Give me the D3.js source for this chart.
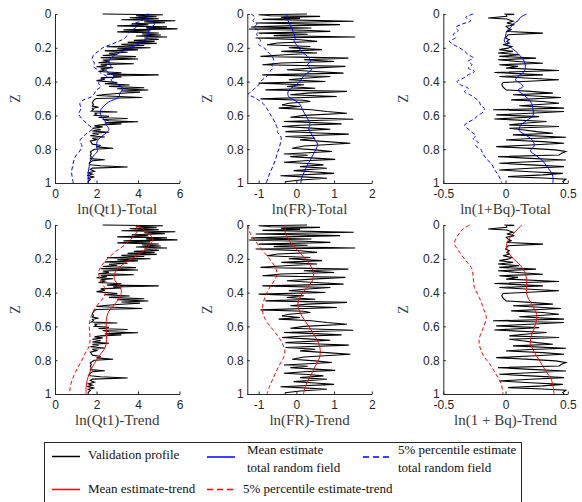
<!DOCTYPE html>
<html>
<head>
<meta charset="utf-8">
<script src="https://cdn.jsdelivr.net/npm/d3@7"></script>
<style>
  body { margin: 0; background: #fff; }
  svg { display: block; }
</style>
</head>
<body>
<div id="chart"></div>
<script>
// ---- data: each point is [Z, value] ----

var zTicks = [0, 0.2, 0.4, 0.6, 0.8, 1];
var qtLim = [0, 6], qtTicks = [0, 2, 4, 6];
var frLim = [-1.3, 2], frTicks = [-1, 0, 1, 2];
var bqLim = [-0.5, 0.5], bqTicks = [-0.5, 0, 0.5];

var qtLabels = ["ln(Qt1)-Total", "ln(Qt1)-Trend"];
var frLabels = ["ln(FR)-Total", "ln(FR)-Trend"];
var bqLabels = ["ln(1+Bq)-Total", "ln(1 + Bq)-Trend"];

// validation profiles (black)
var qtValidation = [[0,2.3],[0.004,5.2],[0.01,3.9],[0.016,4.9],[0.022,3.6],[0.028,5.0],[0.034,3.2],[0.04,5.8],[0.046,4.3],[0.052,5.3],
  [0.058,3.7],[0.064,4.5],[0.07,3.0],[0.076,5.4],[0.082,4.4],[0.088,5.9],[0.094,3.3],[0.1,4.6],[0.106,3.0],[0.112,5.0],[0.118,4.2],
  [0.124,5.1],[0.13,3.9],[0.136,5.4],[0.142,4.3],[0.15,5.0],[0.156,3.8],[0.162,4.8],[0.168,3.5],[0.174,4.9],[0.18,3.2],[0.186,4.3],
  [0.194,2.5],[0.2,4.6],[0.206,3.0],[0.212,4.0],[0.218,2.4],[0.226,3.5],[0.232,2.6],[0.238,3.0],[0.246,2.3],[0.252,3.9],[0.258,2.2],
  [0.266,4.0],[0.272,2.3],[0.28,2.6],[0.288,2.1],[0.294,3.8],[0.3,2.2],[0.306,2.5],[0.312,2.0],[0.318,2.8],[0.324,2.2],[0.332,2.4],
  [0.34,2.1],[0.348,3.2],[0.356,2.5],[0.36,5.0],[0.366,2.8],[0.372,3.2],[0.378,2.2],[0.386,2.4],[0.394,2.0],[0.4,2.5],[0.406,3.0],
  [0.412,2.4],[0.42,3.6],[0.428,2.6],[0.436,4.3],[0.442,3.0],[0.45,4.5],[0.456,3.2],[0.462,4.1],[0.47,3.0],[0.476,2.4],[0.482,2.0],
  [0.488,3.1],[0.494,4.2],[0.5,2.0],[0.506,1.9],[0.515,1.85],[0.525,1.8],[0.535,1.85],[0.545,1.8],[0.552,2.1],[0.558,1.8],[0.566,1.85],
  [0.574,1.75],[0.58,3.0],[0.586,1.9],[0.592,2.0],[0.6,1.9],[0.606,2.6],[0.612,2.1],[0.618,3.5],[0.624,2.3],[0.632,2.6],[0.638,4.0],
  [0.644,2.4],[0.65,3.2],[0.656,2.2],[0.662,1.9],[0.668,2.3],[0.676,1.8],[0.684,2.2],[0.692,1.8],[0.7,2.6],[0.706,1.8],[0.712,2.1],
  [0.72,1.7],[0.728,2.4],[0.736,1.8],[0.744,2.0],[0.752,1.7],[0.76,1.75],[0.77,1.8],[0.778,2.2],[0.786,2.0],[0.794,2.8],[0.8,1.9],
  [0.808,1.8],[0.816,1.7],[0.826,1.75],[0.836,1.7],[0.846,1.75],[0.856,1.7],[0.862,2.4],[0.868,1.8],[0.876,1.7],[0.884,1.65],[0.892,1.7],
  [0.898,2.2],[0.905,3.5],[0.912,1.8],[0.92,1.7],[0.93,1.9],[0.94,1.6],[0.948,1.8],[0.956,1.55],[0.964,1.9],[0.972,1.6],[0.98,1.7],
  [0.99,1.6],[1,1.6]];

var frValidation = [[0,0.28],[0.004,-1.0],[0.01,-0.69],[0.014,0.63],[0.02,-0.4],[0.026,0.1],[0.032,-0.9],[0.043,1.52],[0.053,-1.08],
  [0.063,1.16],[0.07,-0.3],[0.077,-1.2],[0.083,0.4],[0.089,-1.26],[0.096,0.2],[0.103,0.9],[0.113,-1.0],[0.12,0.3],[0.128,-0.6],
  [0.136,1.56],[0.142,-1.08],[0.152,0.1],[0.162,0.55],[0.172,-0.5],[0.182,-0.78],[0.192,0.37],[0.2,-0.2],[0.211,0.68],[0.221,-0.4],
  [0.231,0.55],[0.241,-0.3],[0.251,-0.95],[0.261,1.38],[0.271,0.2],[0.281,1.0],[0.29,-0.4],[0.3,-0.9],[0.31,1.3],[0.32,0.4],
  [0.33,-0.25],[0.34,0.5],[0.35,1.25],[0.36,-0.9],[0.37,0.9],[0.38,0.2],[0.389,-0.2],[0.399,0.77],[0.409,-1.0],[0.419,0.2],
  [0.429,-0.25],[0.439,0.5],[0.449,-0.82],[0.458,1.34],[0.468,0.3],[0.478,-0.16],[0.488,1.07],[0.502,-0.95],[0.51,0.2],[0.518,0.37],
  [0.528,-0.2],[0.538,-0.38],[0.547,0.1],[0.557,-0.47],[0.567,0.4],[0.577,0.81],[0.587,1.34],[0.6,0.2],[0.611,-0.16],[0.623,1.51],
  [0.636,-0.33],[0.643,0.5],[0.65,1.2],[0.658,0.1],[0.666,-0.38],[0.674,0.3],[0.682,0.9],[0.696,-0.29],[0.704,0.6],[0.711,1.39],
  [0.725,-0.29],[0.735,0.5],[0.745,0.1],[0.755,0.8],[0.765,1.43],[0.781,0.2],[0.794,-0.11],[0.804,0.5],[0.814,0.94],[0.828,-0.33],
  [0.836,0.3],[0.844,-0.16],[0.86,1.03],[0.868,0.2],[0.877,-0.33],[0.885,0.3],[0.893,0.72],[0.903,0.1],[0.913,0.81],[0.927,-0.07],
  [0.935,0.5],[0.943,1.0],[0.957,-0.42],[0.965,0.3],[0.972,0.81],[0.982,0.1],[0.992,-0.29],[1,-0.3]];

var bqValidation = [[0,-0.01],[0.002,0.07],[0.004,0.005],[0.014,0.01],[0.024,-0.14],[0.03,0.01],[0.043,0.06],[0.053,0.01],[0.063,0.07],
  [0.073,0.005],[0.083,0.02],[0.093,0.045],[0.103,0.01],[0.113,0.3],[0.123,0.02],[0.132,0.01],[0.142,0.0],[0.152,0.03],[0.162,0.01],
  [0.172,0.03],[0.182,-0.02],[0.192,0.05],[0.202,0.02],[0.211,-0.05],[0.221,0.06],[0.231,-0.06],[0.241,0.11],[0.251,-0.05],
  [0.261,0.245],[0.271,-0.06],[0.281,0.1],[0.291,0.3],[0.3,-0.05],[0.31,0.1],[0.32,0.005],[0.334,0.43],[0.346,-0.09],[0.36,0.3],
  [0.37,-0.05],[0.38,0.2],[0.389,0.43],[0.405,-0.02],[0.419,-0.03],[0.433,-0.02],[0.449,0.005],[0.458,0.2],[0.468,0.38],[0.478,0.06],
  [0.494,0.445],[0.508,0.045],[0.518,0.3],[0.528,0.43],[0.543,0.11],[0.557,0.47],[0.567,-0.1],[0.577,0.47],[0.587,0.2],[0.597,-0.075],
  [0.607,0.27],[0.621,-0.09],[0.636,0.33],[0.646,0.15],[0.656,0.03],[0.666,0.43],[0.676,0.03],[0.686,0.15],[0.696,0.25],[0.706,0.38],
  [0.715,0.06],[0.729,0.485],[0.737,0.2],[0.745,0.005],[0.755,0.3],[0.765,0.47],[0.775,0.2],[0.785,-0.075],[0.795,0.2],[0.804,0.4],
  [0.814,0.485],[0.824,0.45],[0.834,0.43],[0.844,-0.06],[0.854,0.2],[0.864,0.485],[0.874,0.2],[0.883,-0.05],[0.893,0.2],[0.903,0.47],
  [0.913,0.2],[0.923,-0.05],[0.933,0.2],[0.943,0.46],[0.952,0.3],[0.962,0.02],[0.97,0.3],[0.978,0.485],[0.992,0.46],[1,0.47]];

// mean and 5% percentile estimates, total random field (blue)
var qtMeanTotal = [[0,4.6],[0.03,4.4],[0.06,4.8],[0.09,4.5],[0.12,4.5],[0.16,4.3],[0.2,3.6],[0.23,3.1],[0.26,2.7],[0.29,2.6],[0.31,2.7],
  [0.33,2.45],[0.35,2.6],[0.37,2.9],[0.39,2.7],[0.41,2.9],[0.43,3.2],[0.45,3.25],[0.47,3.1],[0.49,3.1],[0.52,2.6],[0.545,2.35],[0.57,2.2],
  [0.6,2.2],[0.63,2.4],[0.66,2.5],[0.68,2.6],[0.7,2.5],[0.72,2.3],[0.75,2.05],[0.78,2.0],[0.81,2.05],[0.84,1.85],[0.87,1.7],[0.9,1.65],
  [0.94,1.6],[0.97,1.6],[1,1.6]];
var qtP5Total = [[0,4.5],[0.02,4.0],[0.04,4.2],[0.06,3.7],[0.08,3.9],[0.1,3.6],[0.12,3.5],[0.14,3.4],[0.16,3.1],[0.18,2.7],[0.2,2.3],
  [0.22,2.1],[0.245,1.85],[0.27,1.8],[0.29,1.9],[0.31,1.85],[0.33,2.05],[0.35,2.2],[0.37,2.5],[0.39,2.2],[0.41,2.1],[0.43,2.2],[0.45,2.0],
  [0.47,1.9],[0.49,1.75],[0.51,1.35],[0.53,1.2],[0.56,1.25],[0.59,1.15],[0.62,1.3],[0.65,1.55],[0.68,1.8],[0.7,1.6],[0.72,1.4],[0.75,1.2],
  [0.78,1.3],[0.81,1.2],[0.84,1.0],[0.87,0.9],[0.9,0.85],[0.93,0.8],[0.96,0.82],[1,0.88]];

var frMeanTotal = [[0,-0.26],[0.04,-0.22],[0.08,-0.13],[0.12,-0.06],[0.14,-0.03],[0.16,-0.06],[0.19,0.03],[0.22,0.13],[0.26,0.34],
  [0.28,0.38],[0.3,0.3],[0.33,0.4],[0.36,0.22],[0.39,0.12],[0.41,0.05],[0.43,-0.08],[0.46,-0.22],[0.49,-0.2],[0.51,-0.05],[0.53,0.08],
  [0.56,0.15],[0.59,0.22],[0.62,0.3],[0.65,0.36],[0.68,0.33],[0.71,0.4],[0.74,0.48],[0.77,0.56],[0.8,0.52],[0.83,0.45],[0.86,0.38],
  [0.9,0.28],[0.94,0.2],[0.97,0.14],[1,0.12]];
var frP5Total = [[0,-1.2],[0.02,-1.1],[0.04,-1.15],[0.06,-1.05],[0.08,-1.12],[0.1,-1.0],[0.12,-1.05],[0.14,-1.0],[0.16,-0.95],
  [0.18,-1.0],[0.2,-0.85],[0.22,-0.78],[0.24,-0.68],[0.26,-0.62],[0.28,-0.6],[0.3,-0.65],[0.32,-0.62],[0.34,-0.7],[0.36,-0.75],
  [0.38,-0.85],[0.4,-0.95],[0.42,-1.0],[0.44,-1.1],[0.46,-1.2],[0.475,-1.28],[0.49,-1.15],[0.51,-1.0],[0.53,-0.88],[0.56,-0.78],
  [0.59,-0.7],[0.62,-0.62],[0.65,-0.55],[0.68,-0.5],[0.7,-0.5],[0.72,-0.42],[0.74,-0.4],[0.76,-0.42],[0.79,-0.45],[0.82,-0.5],
  [0.86,-0.55],[0.9,-0.62],[0.94,-0.7],[0.97,-0.75],[1,-0.8]];

var bqMeanTotal = [[0,0.17],[0.02,0.12],[0.04,0.1],[0.06,0.06],[0.08,0.04],[0.1,0.01],[0.13,0.0],[0.16,-0.01],[0.19,0.03],[0.22,0.08],
  [0.25,0.12],[0.28,0.15],[0.31,0.16],[0.34,0.15],[0.37,0.1],[0.39,0.08],[0.41,0.12],[0.43,0.14],[0.45,0.1],[0.47,0.13],[0.5,0.18],
  [0.53,0.21],[0.56,0.22],[0.6,0.22],[0.63,0.17],[0.66,0.12],[0.69,0.11],[0.72,0.17],[0.75,0.22],[0.78,0.23],[0.81,0.2],[0.84,0.25],
  [0.87,0.3],[0.9,0.33],[0.93,0.36],[0.96,0.38],[1,0.38]];
var bqP5Total = [[0,-0.26],[0.02,-0.32],[0.04,-0.28],[0.06,-0.35],[0.08,-0.4],[0.1,-0.38],[0.12,-0.42],[0.14,-0.4],[0.16,-0.45],
  [0.18,-0.42],[0.2,-0.37],[0.22,-0.33],[0.24,-0.3],[0.26,-0.26],[0.28,-0.3],[0.3,-0.27],[0.32,-0.3],[0.34,-0.25],[0.36,-0.3],
  [0.38,-0.34],[0.4,-0.39],[0.42,-0.36],[0.44,-0.3],[0.46,-0.33],[0.48,-0.28],[0.5,-0.24],[0.52,-0.21],[0.54,-0.2],[0.56,-0.17],
  [0.58,-0.18],[0.6,-0.22],[0.62,-0.25],[0.64,-0.3],[0.66,-0.33],[0.68,-0.3],[0.7,-0.27],[0.72,-0.24],[0.74,-0.26],[0.76,-0.22],
  [0.78,-0.24],[0.8,-0.2],[0.83,-0.18],[0.86,-0.15],[0.89,-0.11],[0.92,-0.09],[0.95,-0.06],[0.98,-0.04],[1,-0.03]];

// mean and 5% percentile estimates of the trend (red)
var qtMeanTrend = [[0,3.95],[0.03,4.3],[0.06,4.6],[0.09,4.7],[0.12,4.55],[0.15,4.3],[0.18,3.95],[0.21,3.55],[0.24,3.2],[0.27,2.95],
  [0.3,2.85],[0.33,2.9],[0.36,3.1],[0.39,3.2],[0.42,3.15],[0.45,3.0],[0.48,2.8],[0.51,2.6],[0.54,2.5],[0.57,2.47],[0.6,2.47],
  [0.65,2.48],[0.7,2.47],[0.73,2.4],[0.76,2.22],[0.8,2.0],[0.84,1.8],[0.88,1.65],[0.92,1.55],[0.96,1.5],[1,1.5]];
var qtP5Trend = [[0,3.87],[0.03,3.95],[0.06,3.85],[0.09,3.6],[0.12,3.35],[0.15,3.0],[0.18,2.7],[0.21,2.45],[0.24,2.25],[0.27,2.12],
  [0.3,2.12],[0.33,2.2],[0.36,2.35],[0.39,2.42],[0.42,2.38],[0.45,2.2],[0.48,2.0],[0.51,1.85],[0.54,1.75],[0.57,1.67],[0.6,1.65],
  [0.65,1.68],[0.7,1.68],[0.73,1.6],[0.76,1.45],[0.8,1.3],[0.84,1.12],[0.88,0.95],[0.92,0.82],[0.96,0.73],[1,0.72]];

var frMeanTrend = [[0,-0.29],[0.05,-0.29],[0.1,-0.16],[0.157,0.06],[0.217,0.3],[0.25,0.4],[0.285,0.46],[0.335,0.41],[0.394,0.19],
  [0.443,0.07],[0.48,0.04],[0.54,0.15],[0.6,0.33],[0.66,0.5],[0.72,0.62],[0.78,0.62],[0.837,0.5],[0.896,0.37],[0.955,0.24],[1,0.19]];
var frP5Trend = [[0,-1.29],[0.05,-1.22],[0.09,-1.1],[0.15,-0.9],[0.207,-0.69],[0.266,-0.53],[0.305,-0.53],[0.364,-0.69],[0.42,-0.82],
  [0.5,-0.9],[0.56,-0.82],[0.62,-0.62],[0.68,-0.42],[0.74,-0.31],[0.78,-0.33],[0.837,-0.47],[0.9,-0.6],[0.955,-0.71],[1,-0.78]];

var bqMeanTrend = [[0,0.13],[0.03,0.09],[0.07,0.04],[0.11,0.01],[0.15,0.015],[0.19,0.05],[0.24,0.12],[0.29,0.16],[0.35,0.17],
  [0.41,0.17],[0.47,0.21],[0.53,0.25],[0.59,0.24],[0.65,0.21],[0.7,0.2],[0.75,0.23],[0.8,0.27],[0.86,0.32],[0.92,0.37],[1,0.39]];
var bqP5Trend = [[0,-0.29],[0.03,-0.35],[0.07,-0.39],[0.11,-0.41],[0.15,-0.38],[0.21,-0.32],[0.26,-0.27],[0.31,-0.26],[0.37,-0.25],
  [0.43,-0.21],[0.49,-0.18],[0.55,-0.155],[0.61,-0.18],[0.67,-0.21],[0.71,-0.21],[0.77,-0.18],[0.83,-0.12],[0.88,-0.08],
  [0.94,-0.035],[1,-0.02]];

var legendEntries = [
  ["Validation profile"],
  ["Mean estimate", "total random field"],
  ["5% percentile estimate", "total random field"],
  ["Mean estimate-trend"],
  ["5% percentile estimate-trend"]
];

// ---- layout ----
var svgWidth = 582, svgHeight = 502;
var plotW = 124.5, plotH = 169;
var colLeft = [55, 247.3, 443.3];
var rowTop = [14, 225];

var axisColor = "#262626";
var sansFont = "'Liberation Sans', Arial, Helvetica, sans-serif";
var serifFont = "'Liberation Serif', 'Times New Roman', Times, serif";
var blue = "#0000ff", red = "#ff0000";

var columns = [
  { lim: qtLim, ticks: qtTicks, valid: qtValidation, labels: qtLabels,
    rows: [[qtMeanTotal, qtP5Total], [qtMeanTrend, qtP5Trend]] },
  { lim: frLim, ticks: frTicks, valid: frValidation, labels: frLabels,
    rows: [[frMeanTotal, frP5Total], [frMeanTrend, frP5Trend]] },
  { lim: bqLim, ticks: bqTicks, valid: bqValidation, labels: bqLabels,
    rows: [[bqMeanTotal, bqP5Total], [bqMeanTrend, bqP5Trend]] }
];

var svg = d3.select("#chart")
  .append("svg")
  .attr("width", svgWidth)
  .attr("height", svgHeight);

var defs = svg.append("defs");

columns.forEach(function (col, ci) {
  [0, 1].forEach(function (ri) {
    var g = svg.append("g")
      .attr("transform", `translate(${colLeft[ci]}, ${rowTop[ri]})`);

    var xScale = d3.scaleLinear().domain(col.lim).range([0, plotW]);
    var yScale = d3.scaleLinear().domain([0, 1]).range([0, plotH]);

    var clipId = "clip" + ci + ri;
    defs.append("clipPath").attr("id", clipId)
      .append("rect").attr("x", 0).attr("y", -1).attr("width", plotW).attr("height", plotH + 2);

    var line = d3.line()
      .x(d => xScale(d[1]))
      .y(d => yScale(d[0]));
    var smooth = d3.line()
      .x(d => xScale(d[1]))
      .y(d => yScale(d[0]))
      .curve(d3.curveCatmullRom);

    var plotLines = g.append("g").attr("clip-path", `url(#${clipId})`);

    // validation profile
    plotLines.append("path")
      .datum(col.valid)
      .attr("d", line)
      .attr("fill", "none")
      .attr("stroke", "#000")
      .attr("stroke-width", 1.1)
      .attr("stroke-linejoin", "miter");

    var c = ri === 0 ? blue : red;
    // mean estimate
    plotLines.append("path")
      .datum(col.rows[ri][0])
      .attr("d", smooth)
      .attr("fill", "none")
      .attr("stroke", c)
      .attr("stroke-width", 1);
    // 5% percentile
    plotLines.append("path")
      .datum(col.rows[ri][1])
      .attr("d", smooth)
      .attr("fill", "none")
      .attr("stroke", c)
      .attr("stroke-width", 1)
      .attr("stroke-dasharray", "4,2.5");

    // axes, ticks pointing inward like the original
    var xAxis = d3.axisBottom(xScale)
      .tickValues(col.ticks)
      .tickFormat(d => String(d))
      .tickSizeInner(-2.5)
      .tickSizeOuter(0)
      .tickPadding(6.5);
    var yAxis = d3.axisLeft(yScale)
      .tickValues(zTicks)
      .tickFormat(d => String(d))
      .tickSizeInner(-2.5)
      .tickSizeOuter(0)
      .tickPadding(3.5);

    var gx = g.append("g")
      .attr("transform", `translate(0, ${plotH})`)
      .call(xAxis);
    var gy = g.append("g").call(yAxis);

    [gx, gy].forEach(function (a) {
      a.attr("font-family", sansFont).attr("font-size", 12);
      a.select(".domain").attr("stroke", axisColor);
      a.selectAll(".tick line").attr("stroke", axisColor);
      a.selectAll(".tick text").attr("fill", axisColor);
    });

    // x label
    g.append("text")
      .attr("x", plotW / 2)
      .attr("y", plotH + 30.5)
      .attr("text-anchor", "middle")
      .attr("font-family", serifFont)
      .attr("font-size", 15)
      .attr("fill", "#3a3a3a")
      .text(col.labels[ri]);

    // Z label
    g.append("text")
      .attr("transform", `translate(-35, ${plotH / 2}) rotate(-90)`)
      .attr("text-anchor", "middle")
      .attr("font-family", serifFont)
      .attr("font-size", 14)
      .attr("fill", "#3a3a3a")
      .text("Z");
  });
});

// ---- legend ----
var legend = svg.append("g");
legend.append("rect")
  .attr("x", 44.5).attr("y", 442.5)
  .attr("width", 477).attr("height", 80)
  .attr("fill", "#fff")
  .attr("stroke", axisColor)
  .attr("stroke-width", 1);

var legendStyle = [
  { x: 52, y: 456.5, color: "#000", dash: null, tx: 88, ty: [459] },
  { x: 207, y: 457, color: blue, dash: null, tx: 247, ty: [454, 472] },
  { x: 363, y: 457, color: blue, dash: "6,4", tx: 398, ty: [454, 472] },
  { x: 52, y: 489.5, color: red, dash: null, tx: 88, ty: [493] },
  { x: 207, y: 489.5, color: red, dash: "6,4", tx: 243, ty: [493] }
];

legendEntries.forEach(function (entry, i) {
  var s = legendStyle[i];
  var l = legend.append("line")
    .attr("x1", s.x).attr("x2", s.x + 28)
    .attr("y1", s.y).attr("y2", s.y)
    .attr("stroke", s.color)
    .attr("stroke-width", 1.5);
  if (s.dash) l.attr("stroke-dasharray", s.dash);
  entry.forEach(function (t, k) {
    legend.append("text")
      .attr("x", s.tx)
      .attr("y", s.ty[k])
      .attr("font-family", serifFont)
      .attr("font-size", 13)
      .attr("fill", "#111")
      .text(t);
  });
});
</script>
</body>
</html>
